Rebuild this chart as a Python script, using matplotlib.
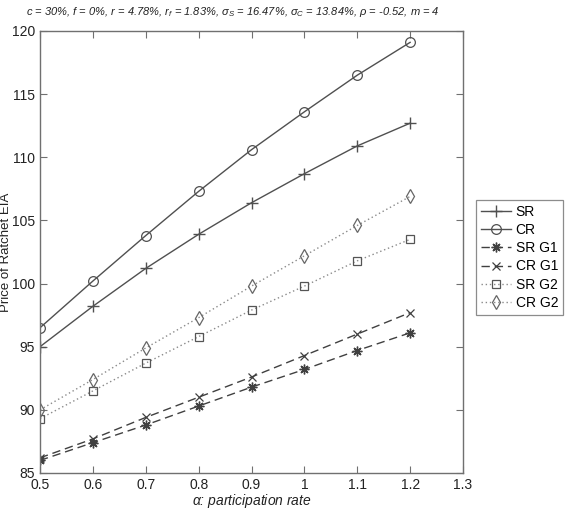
import numpy as np
import matplotlib
matplotlib.use('Agg')
import matplotlib.pyplot as plt

plt.rcParams['font.family'] = ['Liberation Sans', 'DejaVu Sans']
plt.rcParams['mathtext.fontset'] = 'custom'
plt.rcParams['mathtext.rm'] = 'Liberation Sans'
plt.rcParams['mathtext.it'] = 'Liberation Sans:italic'
plt.rcParams['mathtext.sf'] = 'Liberation Sans'

# participation rate
alpha = [0.5, 0.6, 0.7, 0.8, 0.9, 1.0, 1.1, 1.2]

# prices
sr = [95.0, 98.2, 101.2, 103.9, 106.4, 108.7, 110.9, 112.7]
cr = [96.5, 100.2, 103.8, 107.3, 110.6, 113.6, 116.5, 119.1]
sr_g1 = [86.0, 87.4, 88.8, 90.3, 91.8, 93.2, 94.7, 96.1]
cr_g1 = [86.2, 87.7, 89.4, 91.0, 92.6, 94.3, 96.0, 97.7]
sr_g2 = [89.3, 91.5, 93.7, 95.8, 97.9, 99.8, 101.8, 103.5]
cr_g2 = [90.0, 92.4, 94.9, 97.3, 99.8, 102.2, 104.6, 106.9]

labels = ['SR', 'CR', 'SR G1', 'CR G1', 'SR G2', 'CR G2']
xticks = [0.5, 0.6, 0.7, 0.8, 0.9, 1.0, 1.1, 1.2, 1.3]
xticklabels = ['0.5', '0.6', '0.7', '0.8', '0.9', '1', '1.1', '1.2', '1.3']
yticks = [85, 90, 95, 100, 105, 110, 115, 120]

fig = plt.figure(figsize=(5.68, 5.12), dpi=100)
ax = fig.add_axes([40 / 568, 1 - 473 / 512, 423 / 568, 442 / 512])

solid_c = '#505050'
dash_c = '#404040'
dot_c = '#8a8a8a'
dot_style = (0, (1, 2))
dash_style = (0, (6, 3.5))
asterisk = (8, 2, 0)

ax.plot(alpha, sr, color=solid_c, lw=1, marker='+', ms=8, mew=1, label=labels[0])
ax.plot(alpha, cr, color=solid_c, lw=1, marker='o', ms=7, mfc='none', mew=0.9, label=labels[1])
ax.plot(alpha, sr_g1, color=dash_c, lw=1, ls=dash_style, marker=asterisk, ms=7, mew=1, label=labels[2])
ax.plot(alpha, cr_g1, color=dash_c, lw=1, ls=dash_style, marker='x', ms=5.5, mew=0.9, label=labels[3])
ax.plot(alpha, sr_g2, color=dot_c, lw=1, ls=dot_style, marker='s', ms=6, mfc='none', mec='#555555', mew=0.9, label=labels[4])
ax.plot(alpha, cr_g2, color=dot_c, lw=1, ls=dot_style, marker='d', ms=7.5, mfc='none', mec='#666666', mew=0.9, label=labels[5])

ax.set_xlim(0.5, 1.3)
ax.set_ylim(85, 120)
ax.set_xticks(xticks)
ax.set_xticklabels(xticklabels)
ax.set_yticks(yticks)
ax.tick_params(direction='in', top=True, right=True, length=5, width=0.8,
               color='#707070', labelsize=10, labelcolor='#222222', pad=3.5)
for s in ax.spines.values():
    s.set_color('#707070')
    s.set_linewidth(1)

ax.set_xlabel(r'$\alpha$: participation rate', fontsize=10, style='italic', color='#222222')
ax.xaxis.set_label_coords(0.5, -0.042, transform=ax.transAxes)
ax.xaxis.label.set_va('top')
ax.set_ylabel('Price of Ratchet EIA', fontsize=9.5, color='#222222')
ax.yaxis.set_label_coords(-0.066, 0.5)

fig.text(233 / 568, 1 - 12 / 512,
         r'c = 30%, f = 0%, r = 4.78%, $r_f$ = 1.83%, $\sigma_S$ = 16.47%, '
         r'$\sigma_C$ = 13.84%, $\rho$ = -0.52, m = 4',
         ha='center', va='center', fontsize=8, style='italic', color='#222222')

leg = ax.legend(loc='upper left', bbox_to_anchor=(476 / 568, 1 - 200 / 512),
                bbox_transform=fig.transFigure, fontsize=10, frameon=True,
                fancybox=False, edgecolor='#707070', handlelength=2.2,
                handletextpad=0.3, borderpad=0.35, labelspacing=0.3, borderaxespad=0)
leg.get_frame().set_linewidth(0.9)

fig.savefig('out.png', dpi=100)
